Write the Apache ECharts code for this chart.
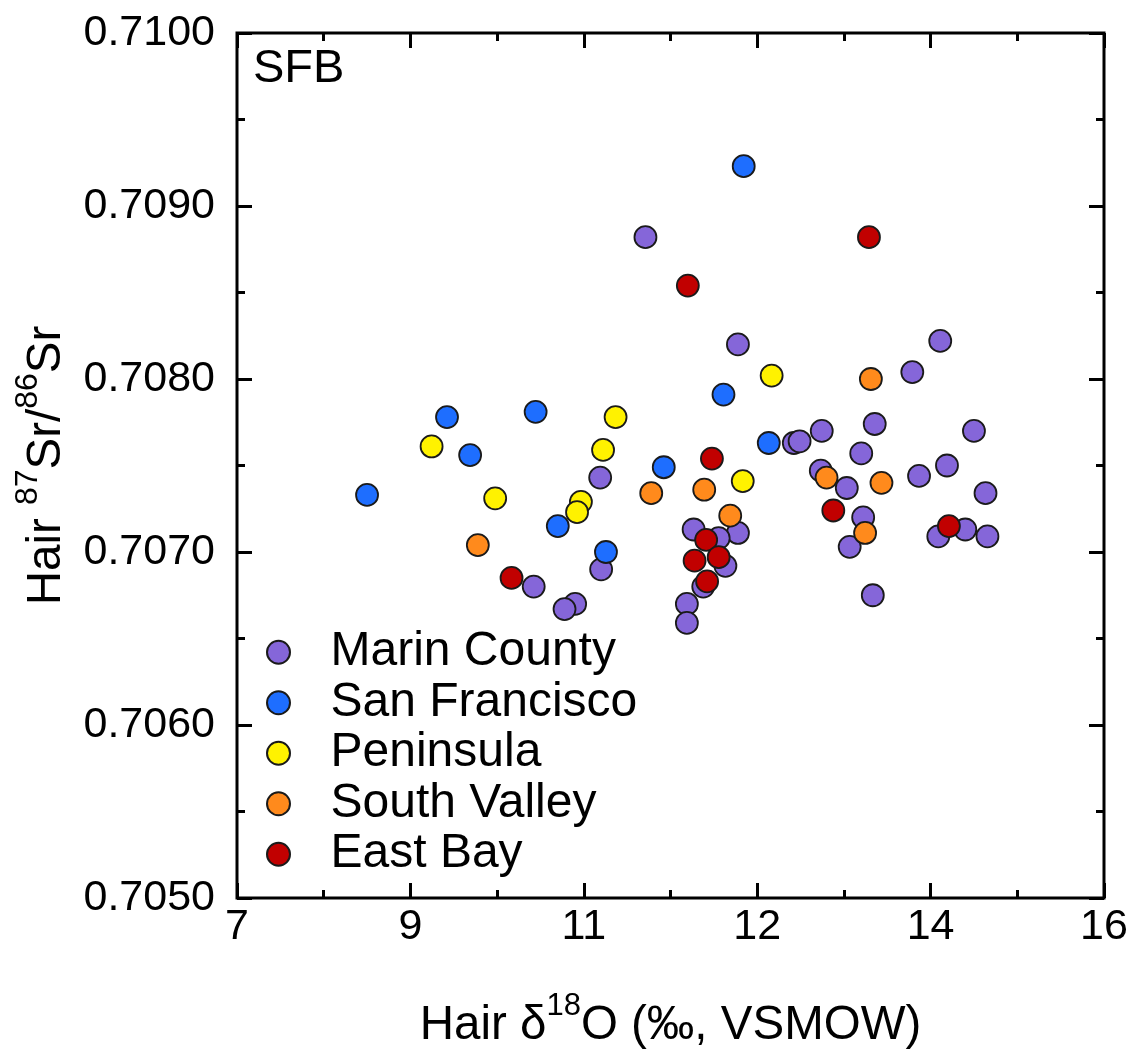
<!DOCTYPE html>
<html>
<head>
<meta charset="utf-8">
<title>SFB hair isotopes</title>
<script src="https://cdn.jsdelivr.net/npm/echarts@6/dist/echarts.min.js"></script>
<style>
  html, body { margin: 0; padding: 0; background: #ffffff; }
  #chart { width: 1135px; height: 1053px; }
</style>
</head>
<body>
<div id="chart"></div>
<script>
// Hair d18O (permil, VSMOW) vs hair 87Sr/86Sr, San Francisco Bay region
const regionNames = ['Marin County', 'San Francisco', 'Peninsula', 'South Valley', 'East Bay'];
const regionColors = ['#8566d9', '#1e6eff', '#fff200', '#ff8a1c', '#c10000'];

const marinCounty = [
  [11.24, 0.70882], [12.20, 0.70820], [10.77, 0.70743], [10.08, 0.70680], [10.51, 0.70670],
  [10.40, 0.70667], [10.78, 0.70690], [11.74, 0.70713], [12.20, 0.70711], [12.00, 0.70708],
  [12.07, 0.70692], [11.84, 0.70680], [11.67, 0.70670], [11.67, 0.70659], [14.30, 0.70822],
  [14.01, 0.70804], [13.62, 0.70774], [14.65, 0.70770], [13.07, 0.70770], [12.78, 0.70763],
  [12.84, 0.70764], [13.48, 0.70757], [14.37, 0.70750], [14.08, 0.70744], [13.06, 0.70747],
  [13.33, 0.70737], [14.77, 0.70734], [13.50, 0.70720], [13.36, 0.70703], [14.28, 0.70709],
  [14.56, 0.70713], [14.79, 0.70709], [13.60, 0.70675]
];
const sanFrancisco = [
  [12.26, 0.70923], [9.18, 0.70778], [10.10, 0.70781], [9.42, 0.70756], [8.35, 0.70733],
  [10.33, 0.70715], [10.83, 0.70700], [12.05, 0.70791], [11.43, 0.70749], [12.52, 0.70763]
];
const peninsula = [
  [10.93, 0.70778], [9.02, 0.70761], [10.80, 0.70759], [9.68, 0.70731], [10.57, 0.70729],
  [10.53, 0.70723], [12.55, 0.70802], [12.25, 0.70741]
];
const southValley = [
  [9.50, 0.70704], [11.30, 0.70734], [11.85, 0.70736], [12.12, 0.70721], [13.58, 0.70800],
  [13.12, 0.70743], [13.69, 0.70740], [13.52, 0.70711]
];
const eastBay = [
  [13.56, 0.70882], [11.68, 0.70854], [11.93, 0.70754], [9.85, 0.70685], [11.87, 0.70707],
  [11.75, 0.70695], [12.00, 0.70697], [11.88, 0.70683], [13.19, 0.70724], [14.39, 0.70715]
];
const regionData = [marinCounty, sanFrancisco, peninsula, southValley, eastBay];

// axis ranges and printed tick labels
const xRange = [7, 16];
const xStep = 1.8;
const xTickLabels = ['7', '9', '11', '12', '14', '16'];
const yRange = [0.705, 0.710];
const yStep = 0.001;
const yTickLabels = ['0.7050', '0.7060', '0.7070', '0.7080', '0.7090', '0.7100'];

const FONT = 'Liberation Sans, Arial, Helvetica, sans-serif';
const INK = '#000000';

function frameAxis(kind, position, withLabels) {
  const isX = kind === 'x';
  const range = isX ? xRange : yRange;
  const labels = isX ? xTickLabels : yTickLabels;
  return {
    type: 'value',
    position: position,
    min: range[0],
    max: range[1],
    interval: isX ? xStep : yStep,
    axisLine: { show: false, onZero: false },
    axisTick: { show: true, inside: true, length: 15, lineStyle: { color: INK, width: 3 } },
    minorTick: { show: true, splitNumber: 2, length: 8, lineStyle: { color: INK, width: 3 } },
    splitLine: { show: false },
    minorSplitLine: { show: false },
    axisLabel: {
      show: withLabels,
      showMinLabel: true,
      showMaxLabel: true,
      hideOverlap: false,
      margin: isX ? 8 : 22,
      color: INK,
      fontFamily: FONT,
      fontSize: 43,
      formatter: function (value, index) { return labels[index]; }
    }
  };
}

const xMain = frameAxis('x', 'bottom', true);
xMain.name = '{m|Hair \u03B4}{s|18}{m|O (\u2030, VSMOW)}';
xMain.nameLocation = 'middle';
xMain.nameGap = 93;
xMain.nameTextStyle = {
  color: INK, fontFamily: FONT, fontSize: 47.5,
  rich: {
    m: { fontFamily: FONT, fontSize: 47.5, lineHeight: 70, color: INK },
    s: { fontFamily: FONT, fontSize: 31, lineHeight: 16, verticalAlign: 'top', color: INK }
  }
};

const yMain = frameAxis('y', 'left', true);
yMain.name = '{m|Hair }{s|87}{m|Sr/}{s|86}{m|Sr}';
yMain.nameLocation = 'middle';
yMain.nameGap = 155;
yMain.nameTextStyle = {
  color: INK, fontFamily: FONT, fontSize: 47.5,
  rich: {
    m: { fontFamily: FONT, fontSize: 47.5, lineHeight: 70, color: INK },
    s: { fontFamily: FONT, fontSize: 32, lineHeight: 24, verticalAlign: 'top', color: INK }
  }
};

const option = {
  animation: false,
  backgroundColor: '#ffffff',
  grid: {
    show: true,
    left: 237, right: 31, top: 33, bottom: 155,
    containLabel: false,
    outerBoundsMode: 'none',
    borderColor: INK,
    borderWidth: 3,
    backgroundColor: 'transparent'
  },
  xAxis: [xMain, frameAxis('x', 'top', false)],
  yAxis: [yMain, frameAxis('y', 'right', false)],
  legend: {
    orient: 'vertical',
    left: 266,
    top: 627,
    padding: 0,
    itemWidth: 94,
    itemHeight: 23,
    itemGap: 0,
    selectedMode: false,
    data: regionNames,
    textStyle: { color: INK, fontFamily: FONT, fontSize: 48, lineHeight: 50.5 }
  },
  graphic: [{
    type: 'text',
    left: 253,
    top: 46,
    style: { text: 'SFB', fill: INK, font: '47px ' + FONT }
  }],
  series: regionNames.map(function (name, i) {
    return {
      name: name,
      type: 'scatter',
      xAxisIndex: 0,
      yAxisIndex: 0,
      data: regionData[i],
      symbol: 'circle',
      symbolSize: 22,
      itemStyle: { color: regionColors[i], borderColor: '#1a1a1a', borderWidth: 1.8, opacity: 1 },
      emphasis: { disabled: true },
      z: 2 + i
    };
  })
};

const chart = echarts.init(document.getElementById('chart'), null, { renderer: 'canvas' });
chart.setOption(option);
</script>
</body>
</html>
